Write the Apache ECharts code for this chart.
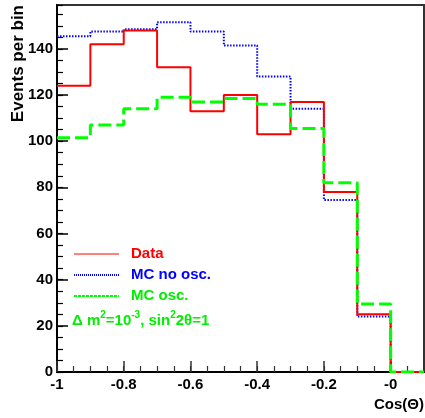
<!DOCTYPE html>
<html>
<head>
<meta charset="utf-8">
<script src="https://cdn.jsdelivr.net/npm/echarts@6/dist/echarts.min.js"></script>
<style>
html,body{margin:0;padding:0;background:#fff;}
#chart{width:425px;height:418px;}
</style>
</head>
<body>
<div id="chart"></div>
<script>
// ---- data ----
const binEdges = [-1, -0.9, -0.8, -0.7, -0.6, -0.5, -0.4, -0.3, -0.2, -0.1, 0, 0.1];
const dataCounts = [124, 142, 148, 132, 113, 120, 103, 117, 78, 25, 0];
const mcNoOsc   = [145.5, 147.5, 148.5, 151.5, 147.5, 141.5, 128, 114, 74.5, 24, 0];
const mcOsc     = [101.5, 107, 114, 119, 117, 118.5, 116, 105.5, 82, 29.5, 0];
const xTickValues = [-1, -0.8, -0.6, -0.4, -0.2, 0];
const xTickLabels = ['-1', '-0.8', '-0.6', '-0.4', '-0.2', '-0'];
const yTickValues = [0, 20, 40, 60, 80, 100, 120, 140];
const yTickLabels = ['0', '20', '40', '60', '80', '100', '120', '140'];
const seriesNames = ['Data', 'MC no osc.', 'MC osc.'];
const xTitle = 'Cos(\u0398)';
const yTitle = 'Events per bin';

// pick a narrow bold face if one is installed
function hasFont(name) {
  const c = document.createElement('canvas').getContext('2d');
  const s = 'Events per bin 0123456789';
  c.font = 'bold 40px monospace';
  const a = c.measureText(s).width;
  c.font = "bold 40px '" + name + "', monospace";
  const b = c.measureText(s).width;
  c.font = 'bold 40px serif';
  const a2 = c.measureText(s).width;
  c.font = "bold 40px '" + name + "', serif";
  const b2 = c.measureText(s).width;
  return Math.abs(a - b) > 0.5 || Math.abs(a2 - b2) > 0.5;
}
const narrow = ['Liberation Sans Narrow', 'Arial Narrow'].find(hasFont);
const FONT = narrow ? "'" + narrow + "','Liberation Sans',Arial,sans-serif" : "'Liberation Sans',Arial,sans-serif";
const FS = narrow ? 16 : 15;

function histPoints(vals) {
  const pts = vals.map((v, i) => [binEdges[i], v]);
  pts.push([binEdges[binEdges.length - 1], vals[vals.length - 1]]);
  return pts;
}
function labelFor(values, labels) {
  return function (v) {
    for (let i = 0; i < values.length; i++) {
      if (Math.abs(values[i] - v) < 1e-6) return labels[i];
    }
    return '';
  };
}

const chart = echarts.init(document.getElementById('chart'), null, {renderer: 'canvas'});
const labelStyle = {fontFamily: FONT, fontWeight: 'bold', fontSize: FS, color: '#000'};

chart.setOption({
  animation: false,
  backgroundColor: '#fff',
  grid: {left: 57, right: 1, top: 5, bottom: 46, show: true, borderColor: '#333', borderWidth: 2, backgroundColor: 'transparent', containLabel: false, outerBoundsMode: 'none'},
  xAxis: [{
    type: 'value', min: -1, max: 0.1, interval: 0.2,
    name: xTitle, nameLocation: 'end', nameGap: 0, nameMoveOverlap: false,
    nameTextStyle: Object.assign({}, labelStyle, {align: 'right', verticalAlign: 'top', padding: [25, 0, 0, 0]}),
    axisLine: {show: true, onZero: false, lineStyle: {color: '#000', width: 2}},
    axisTick: {show: true, inside: true, length: 11, lineStyle: {color: '#333', width: 1.5}},
    axisLabel: Object.assign({}, labelStyle, {margin: 5, showMaxLabel: false, formatter: labelFor(xTickValues, xTickLabels)}),
    splitLine: {show: false}
  }, {
    type: 'value', min: -1, max: 0.1, interval: 0.05, position: 'bottom', offset: 0,
    axisLine: {show: false, onZero: false}, axisLabel: {show: false},
    axisTick: {show: true, inside: true, length: 6, lineStyle: {color: '#333', width: 1.2}},
    splitLine: {show: false}
  }],
  yAxis: [{
    type: 'value', min: 0, max: 159, interval: 20,
    name: yTitle, nameLocation: 'end', nameGap: 0, nameRotate: 90, nameMoveOverlap: false,
    nameTextStyle: Object.assign({}, labelStyle, {fontSize: FS + 2, align: 'right', verticalAlign: 'bottom', padding: [0, 0, 30, 0]}),
    axisLine: {show: true, onZero: false, lineStyle: {color: '#000', width: 2}},
    axisTick: {show: true, inside: true, length: 11, lineStyle: {color: '#000', width: 1.5}},
    axisLabel: Object.assign({}, labelStyle, {margin: 4, showMaxLabel: false, formatter: labelFor(yTickValues, yTickLabels)}),
    splitLine: {show: false}
  }, {
    type: 'value', min: 0, max: 159, interval: 5, position: 'left', offset: 0,
    axisLine: {show: false, onZero: false}, axisLabel: {show: false},
    axisTick: {show: true, inside: true, length: 6, lineStyle: {color: '#000', width: 1.2}},
    splitLine: {show: false}
  }],
  legend: {
    orient: 'vertical', left: 73, top: 246, padding: 0,
    itemWidth: 45, itemHeight: 14, itemGap: 5,
    itemStyle: {opacity: 0},
    textStyle: {fontFamily: FONT, fontWeight: 'bold', fontSize: FS, lineHeight: 16, padding: [0, 0, 0, 7]},
    data: [
      {name: seriesNames[0], textStyle: {color: '#ff0000'}, lineStyle: {width: 1, type: 'solid'}},
      {name: seriesNames[1], textStyle: {color: '#0000ff'}, lineStyle: {width: 2, type: [1, 1]}},
      {name: seriesNames[2], textStyle: {color: '#00ee00'}, lineStyle: {width: 2, type: [3, 1]}}
    ]
  },
  graphic: [{
    type: 'text', left: 72, top: 310, silent: true,
    style: {
      text: '{b|\u0394 m}{s|2}{b|=10}{s|-3}{b|, sin}{s|2}{b|2\u03b8=1}',
      rich: {
        b: {fontFamily: FONT, fontWeight: 'bold', fontSize: FS, fill: '#00ee00', verticalAlign: 'bottom', lineHeight: 18},
        s: {fontFamily: FONT, fontWeight: 'bold', fontSize: 10, fill: '#00ee00', verticalAlign: 'top', lineHeight: 18}
      }
    }
  }],
  series: [{
    name: seriesNames[1], type: 'line', step: 'end', symbol: 'none', xAxisIndex: 0, yAxisIndex: 0,
    data: histPoints(mcNoOsc), z: 2,
    lineStyle: {color: '#0000ff', width: 2, type: [1.5, 1.5]}, itemStyle: {color: '#0000ff'}
  }, {
    name: seriesNames[0], type: 'line', step: 'end', symbol: 'none', xAxisIndex: 0, yAxisIndex: 0,
    data: histPoints(dataCounts), z: 3,
    lineStyle: {color: '#ff0000', width: 2, type: 'solid'}, itemStyle: {color: '#ff0000'}
  }, {
    name: seriesNames[2], type: 'line', step: 'end', symbol: 'none', xAxisIndex: 0, yAxisIndex: 0,
    data: histPoints(mcOsc), z: 4,
    lineStyle: {color: '#00ff00', width: 3, type: [13, 5]}, itemStyle: {color: '#00ff00'}
  }]
});
</script>
</body>
</html>
